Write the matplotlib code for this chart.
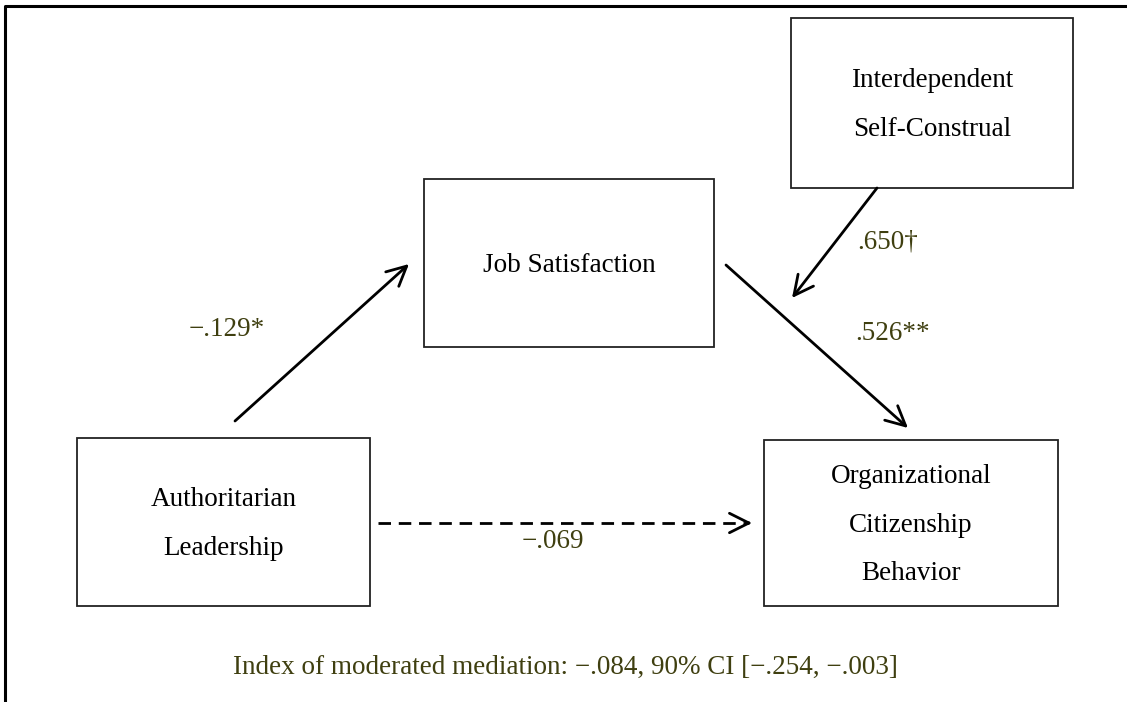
import matplotlib.pyplot as plt
from matplotlib.patches import Rectangle, FancyArrowPatch

# data
node_names = ["Authoritarian\nLeadership", "Job Satisfaction",
              "Interdependent\nSelf-Construal",
              "Organizational\nCitizenship\nBehavior"]
path_coefs = ["\u2212.129*", ".526**", ".650\u2020", "\u2212.069"]
index_note = "Index of moderated mediation: \u2212.084, 90% CI [\u2212.254, \u2212.003]"

# layout in pixel units (x0, y0, x1, y1), y grows downward
boxes = [(77, 438, 370, 606), (424, 179, 714, 347),
         (791, 18, 1073, 188), (764, 440, 1058, 606)]
arrows = [((235, 421), (409, 264), "-"),
          ((726, 265), (908, 428), "-"),
          ((877, 188), (792, 298), "-"),
          ((378, 523), (752, 523), "--")]
label_pos = [(265, 330, "right"), (855, 333, "left"),
             (857, 242, "left"), (553, 541, "center")]

plt.rcParams['font.family'] = ['Liberation Serif', 'DejaVu Serif']
coef_color = '#3f3f10'
fs = 19.5

fig = plt.figure(figsize=(11.27, 7.02), dpi=100)
ax = fig.add_axes([0, 0, 1, 1])
ax.set_xlim(0, 1127)
ax.set_ylim(702, 0)
ax.axis('off')

# outer frame (left and top edges only visible)
ax.plot([5, 5, 1127], [702, 5.5, 5.5], color='black', lw=2.2, solid_capstyle='butt')

for (x0, y0, x1, y1), name in zip(boxes, node_names):
    ax.add_patch(Rectangle((x0, y0), x1 - x0, y1 - y0, fill=False,
                           edgecolor='#222222', lw=1.3))
    ax.text((x0 + x1) / 2, (y0 + y1) / 2 + 2, name, ha='center', va='center',
            fontsize=fs, linespacing=2.25, color='black')

for (start, end, ls) in arrows:
    style = '->,head_length=14,head_width=7'
    if ls == '--':
        # dashed shaft, solid head
        ax.plot([start[0], end[0] - 4], [start[1], end[1]], color='black', lw=2,
                linestyle=(0, (4.5, 2.8)))
        ax.add_patch(FancyArrowPatch((end[0] - 6, end[1]), end, arrowstyle=style,
                                     mutation_scale=1, lw=2, color='black',
                                     shrinkA=0, shrinkB=0))
    else:
        ax.add_patch(FancyArrowPatch(start, end, arrowstyle=style,
                                     mutation_scale=1, lw=2, color='black',
                                     shrinkA=0, shrinkB=0))

for (x, y, ha), coef in zip(label_pos, path_coefs):
    ax.text(x, y, coef, ha=ha, va='center', fontsize=fs, color=coef_color)

ax.text(565, 667, index_note, ha='center', va='center', fontsize=fs, color=coef_color)

fig.savefig('out.png', dpi=100)
